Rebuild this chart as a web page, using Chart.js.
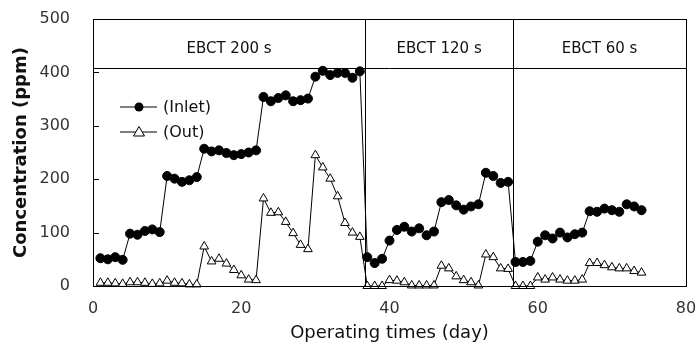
<!DOCTYPE html>
<html>
<head>
<meta charset="utf-8">
<script src="https://cdn.jsdelivr.net/npm/chart.js@4.4.0/dist/chart.umd.min.js"></script>
<style>
  html, body { margin: 0; padding: 0; background: #fff; }
  #wrap { width: 698px; height: 348px; }
</style>
</head>
<body>
<div id="wrap"><canvas id="chart"></canvas></div>
<script>
// Operating day of each sample
const days = [1, 2, 3, 4, 5, 6, 7, 8, 9, 10, 11, 12, 13, 14, 15, 16, 17, 18, 19, 20,
  21, 22, 23, 24, 25, 26, 27, 28, 29, 30, 31, 32, 33, 34, 35, 36, 37, 38, 39, 40,
  41, 42, 43, 44, 45, 46, 47, 48, 49, 50, 51, 52, 53, 54, 55, 56, 57, 58, 59, 60,
  61, 62, 63, 64, 65, 66, 67, 68, 69, 70, 71, 72, 73, 74];

// Inlet concentration (ppm)
const inlet = [52, 50, 54, 49, 98, 96, 103, 106, 101, 206, 201, 195, 198, 204,
  257, 252, 254, 249, 245, 247, 250, 254, 354, 346, 352, 357, 346, 348, 351,
  392, 403, 395, 399, 399, 390, 402,
  54, 43, 51, 85, 105, 111, 102, 108, 95, 102, 157, 161, 151, 143, 149, 153, 212, 206, 193, 195,
  45, 45, 47, 83, 95, 89, 100, 91, 97, 100, 140, 139, 145, 142, 139, 153, 149, 142];

// Outlet concentration (ppm)
const outlet = [6, 6, 5, 4, 7, 7, 6, 4, 5, 10, 6, 5, 3, 3,
  74, 46, 51, 42, 30, 20, 12, 11, 164, 137, 138, 120, 99, 77, 69,
  245, 222, 201, 168, 118, 100, 92,
  0, 0, 0, 11, 10, 7, 1, 1, 1, 1, 38, 33, 18, 11, 7, 1, 59, 54, 33, 32,
  0, 0, 0, 16, 12, 16, 12, 10, 10, 12, 43, 43, 39, 35, 33, 33, 28, 25];

// EBCT stages
const stageLabels = ["EBCT 200 s", "EBCT 120 s", "EBCT 60 s"];
const stageBounds = [0, 36.7, 56.7, 80];
const stageLineY = 408;

const legendNames = ["(Inlet)", "(Out)"];

function toPoints(values) {
  return values.map((v, i) => ({ x: days[i], y: v }));
}

// Frame, stage lines, labels, inward ticks and the legend
const framePlugin = {
  id: "frame",
  afterDatasetsDraw(chart) {
    const ctx = chart.ctx;
    const a = chart.chartArea;
    const xs = chart.scales.x;
    const ys = chart.scales.y;
    ctx.save();
    ctx.strokeStyle = "#000";
    ctx.lineWidth = 1;
    ctx.strokeRect(a.left + 0.5, a.top + 0.5, a.right - a.left, a.bottom - a.top);

    // y ticks pointing in
    ys.ticks.forEach((t) => {
      const py = Math.round(ys.getPixelForValue(t.value)) + 0.5;
      ctx.beginPath();
      ctx.moveTo(a.left, py);
      ctx.lineTo(a.left + 6, py);
      ctx.stroke();
    });

    // stage separators
    const lineY = Math.round(ys.getPixelForValue(stageLineY)) + 0.5;
    ctx.beginPath();
    ctx.moveTo(a.left, lineY);
    ctx.lineTo(a.right, lineY);
    ctx.stroke();
    for (let i = 1; i < stageBounds.length - 1; i++) {
      const px = Math.round(xs.getPixelForValue(stageBounds[i])) + 0.5;
      ctx.beginPath();
      ctx.moveTo(px, a.top);
      ctx.lineTo(px, a.bottom);
      ctx.stroke();
    }

    ctx.fillStyle = "#111";
    ctx.font = "15px 'DejaVu Sans'";
    ctx.textAlign = "center";
    ctx.textBaseline = "middle";
    stageLabels.forEach((label, i) => {
      const cx = (xs.getPixelForValue(stageBounds[i]) + xs.getPixelForValue(stageBounds[i + 1])) / 2;
      ctx.fillText(label, cx, (a.top + lineY) / 2 + 5);
    });

    // legend
    ctx.textAlign = "left";
    ctx.font = "16px 'DejaVu Sans'";
    legendNames.forEach((name, i) => {
      const ly = 107 + i * 25;
      ctx.strokeStyle = "#000";
      ctx.beginPath();
      ctx.moveTo(120, ly);
      ctx.lineTo(157, ly);
      ctx.stroke();
      ctx.beginPath();
      if (i === 0) {
        ctx.fillStyle = "#000";
        ctx.arc(139, ly, 4.5, 0, Math.PI * 2);
        ctx.fill();
      } else {
        ctx.fillStyle = "#fff";
        ctx.moveTo(139, ly - 5.5);
        ctx.lineTo(144.5, ly + 4);
        ctx.lineTo(133.5, ly + 4);
        ctx.closePath();
        ctx.fill();
        ctx.stroke();
      }
      ctx.fillStyle = "#111";
      ctx.fillText(name, 163, ly + 1);
    });
    ctx.restore();
  }
};

new Chart(document.getElementById("chart"), {
  type: "line",
  data: {
    datasets: [
      {
        label: "(Inlet)",
        data: toPoints(inlet),
        borderColor: "#000",
        borderWidth: 1,
        backgroundColor: "#000",
        pointStyle: "circle",
        pointRadius: 4.5,
        pointBorderWidth: 1,
        pointBackgroundColor: "#000",
        tension: 0,
        clip: false
      },
      {
        label: "(Out)",
        data: toPoints(outlet),
        borderColor: "#000",
        borderWidth: 1,
        backgroundColor: "#fff",
        pointStyle: "triangle",
        pointRadius: 5,
        pointBorderWidth: 1,
        pointBackgroundColor: "#fff",
        tension: 0,
        clip: false
      }
    ]
  },
  options: {
    responsive: true,
    maintainAspectRatio: false,
    animation: false,
    layout: { padding: { top: 19, right: 12, left: 0, bottom: 0 } },
    plugins: { legend: { display: false }, tooltip: { enabled: false } },
    scales: {
      x: {
        type: "linear",
        min: 0,
        max: 80,
        grid: { display: false },
        border: { display: false },
        ticks: { stepSize: 20, padding: 5, color: "#333", font: { family: "DejaVu Sans", size: 16 } },
        title: {
          display: true,
          text: "Operating times (day)",
          color: "#111",
          font: { family: "DejaVu Sans", size: 18 },
          padding: { top: 0, bottom: 4 }
        },
        afterFit(scale) {
          scale.height = 62;
          scale.paddingLeft = 0;
          scale.paddingRight = 0;
        }
      },
      y: {
        min: 0,
        max: 500,
        grid: { display: false },
        border: { display: false },
        ticks: { stepSize: 100, padding: 15, color: "#333", font: { family: "DejaVu Sans", size: 16 } },
        title: {
          display: true,
          text: "Concentration (ppm)",
          color: "#111",
          font: { family: "DejaVu Sans", size: 18, weight: "bold" },
          padding: { top: 11, bottom: 0 }
        },
        afterFit(scale) {
          scale.width = 93;
          scale.paddingTop = 0;
          scale.paddingBottom = 0;
        }
      }
    }
  },
  plugins: [framePlugin]
});
</script>
</body>
</html>
